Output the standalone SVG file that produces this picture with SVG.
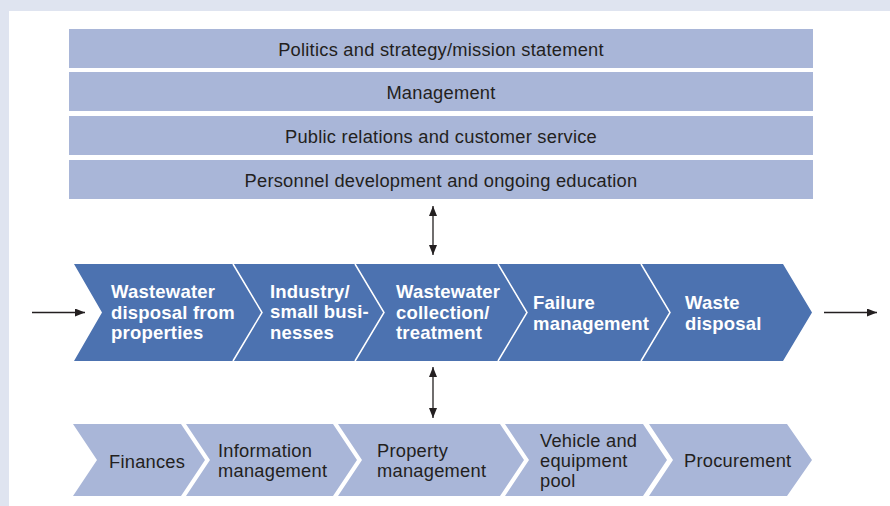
<svg xmlns="http://www.w3.org/2000/svg" width="890" height="506" viewBox="0 0 890 506">
<style>
.bar{fill:#a9b6d8}
.main{fill:#4c72b0}
.sup{fill:#a9b6d8}
.div{fill:none;stroke:#ffffff;stroke-width:1.5}
.t{font-family:"Liberation Sans",Arial,sans-serif;font-size:18.3px;letter-spacing:0.25px;fill:#231f20}
.tc{text-anchor:middle}
.tb{font-family:"Liberation Sans",Arial,sans-serif;font-size:18.5px;font-weight:bold;letter-spacing:0.2px;fill:#ffffff}
.conn{stroke:#231f20;stroke-width:1.3;fill:none}
</style>
<defs>
<marker id="ah" viewBox="0 0 10 8" refX="10" refY="4" markerWidth="10" markerHeight="8" markerUnits="userSpaceOnUse" orient="auto-start-reverse">
<path d="M0,0 L10,4 L0,8 z" fill="#231f20"/>
</marker>
</defs>
<rect x="0" y="0" width="890" height="506" fill="#dfe4f0"/>
<rect x="9" y="11" width="881" height="495" fill="#ffffff"/>

<g id="politics">
<rect class="bar" x="69" y="29" width="744" height="39"/>
<text class="t tc" x="441" y="55.5">Politics and strategy/mission statement</text>
</g>
<g id="management">
<rect class="bar" x="69" y="72" width="744" height="39"/>
<text class="t tc" x="441" y="98.5">Management</text>
</g>
<g id="public-relations">
<rect class="bar" x="69" y="116" width="744" height="39"/>
<text class="t tc" x="441" y="142.5">Public relations and customer service</text>
</g>
<g id="personnel">
<rect class="bar" x="69" y="160" width="744" height="39"/>
<text class="t tc" x="441" y="186.5">Personnel development and ongoing education</text>
</g>

<g id="wastewater-disposal">
<polygon class="main" points="74,264 233,264 262,312.5 233,361 74,361 102,312.5"/>
<text class="tb" x="111" y="298">Wastewater</text>
<text class="tb" x="111" y="318.5">disposal from</text>
<text class="tb" x="111" y="339">properties</text>
</g>
<g id="industry">
<polygon class="main" points="233,264 355,264 384,312.5 355,361 233,361 262,312.5"/>
<polyline class="div" points="233,264 262,312.5 233,361"/>
<text class="tb" x="270" y="297.5">Industry/</text>
<text class="tb" x="270" y="318">small busi-</text>
<text class="tb" x="270" y="338.5">nesses</text>
</g>
<g id="wastewater-collection">
<polygon class="main" points="355,264 498,264 527,312.5 498,361 355,361 384,312.5"/>
<polyline class="div" points="355,264 384,312.5 355,361"/>
<text class="tb" x="396" y="298">Wastewater</text>
<text class="tb" x="396" y="318.5">collection/</text>
<text class="tb" x="396" y="339">treatment</text>
</g>
<g id="failure-management">
<polygon class="main" points="498,264 641,264 670,312.5 641,361 498,361 527,312.5"/>
<polyline class="div" points="498,264 527,312.5 498,361"/>
<text class="tb" x="533" y="309">Failure</text>
<text class="tb" x="533" y="329.5">management</text>
</g>
<g id="waste-disposal">
<polygon class="main" points="641,264 783,264 812,312.5 783,361 641,361 670,312.5"/>
<polyline class="div" points="641,264 670,312.5 641,361"/>
<text class="tb" x="685" y="309">Waste</text>
<text class="tb" x="685" y="329.5">disposal</text>
</g>

<g id="finances">
<polygon class="sup" points="73,424 181,424 205,460 181,496 73,496 97,460"/>
<text class="t" x="109" y="468">Finances</text>
</g>
<g id="information-management">
<polygon class="sup" points="186,424 333,424 357,460 333,496 186,496 210,460"/>
<text class="t" x="218" y="457">Information</text>
<text class="t" x="218" y="477">management</text>
</g>
<g id="property-management">
<polygon class="sup" points="338,424 500,424 524,460 500,496 338,496 362,460"/>
<text class="t" x="377" y="457">Property</text>
<text class="t" x="377" y="477">management</text>
</g>
<g id="vehicle-pool">
<polygon class="sup" points="505,424 643,424 667,460 643,496 505,496 529,460"/>
<text class="t" x="540" y="447">Vehicle and</text>
<text class="t" x="540" y="467">equipment</text>
<text class="t" x="540" y="487">pool</text>
</g>
<g id="procurement">
<polygon class="sup" points="649,424 787,424 812,460 787,496 649,496 673,460"/>
<text class="t" x="684" y="467">Procurement</text>
</g>

<g id="connectors">
<line class="conn" x1="32" y1="312.5" x2="85" y2="312.5" marker-end="url(#ah)"/>
<line class="conn" x1="824" y1="312.5" x2="877" y2="312.5" marker-end="url(#ah)"/>
<line class="conn" x1="433" y1="206" x2="433" y2="255" marker-start="url(#ah)" marker-end="url(#ah)"/>
<line class="conn" x1="433" y1="367" x2="433" y2="418" marker-start="url(#ah)" marker-end="url(#ah)"/>
</g>
</svg>
